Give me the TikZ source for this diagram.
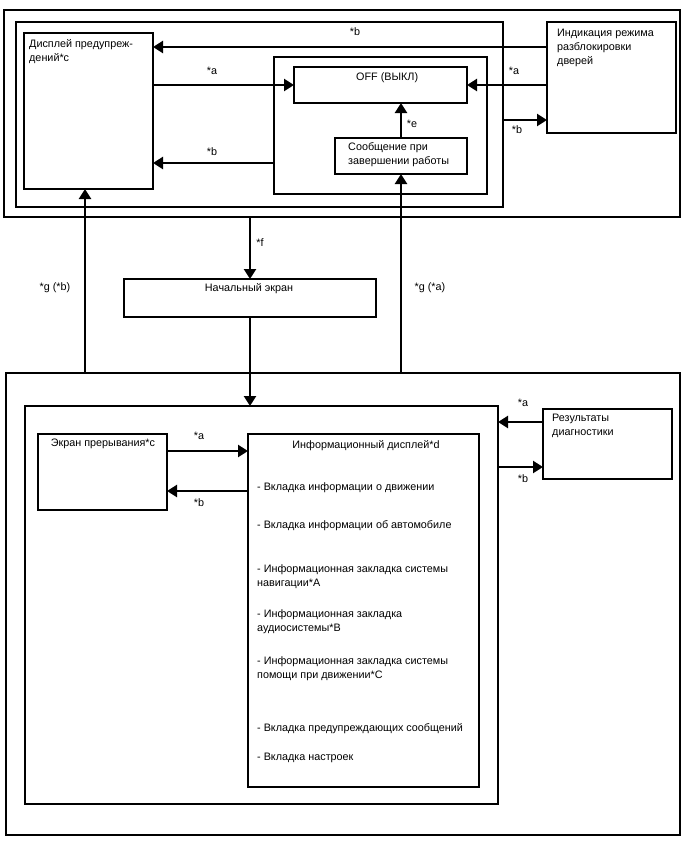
\documentclass[tikz,border=0pt]{standalone}
\usepackage{fontspec}
\setmainfont{Liberation Sans}
\usetikzlibrary{arrows.meta, positioning}

\begin{document}
\begin{tikzpicture}[
  x=1pt, y=-1pt,
  font=\fontsize{10.8}{14}\selectfont,
  box/.style={rectangle, draw=black, line width=1.3pt, anchor=north west,
              inner sep=0pt, outer sep=0pt},
  txt/.style={anchor=north west, inner sep=0pt, align=left},
  tag/.style={inner sep=1pt},
  arrow/.style={-{Triangle[length=10pt, width=12pt]}, line width=2.3pt},
]
  \useasboundingbox (0,0) rectangle (688,852);

  % upper group
  \node[box, minimum width=676, minimum height=207] (topout) at (4,10) {};
  \node[box, minimum width=487, minimum height=185] (topin)  at (16,22) {};
  \node[box, minimum width=129, minimum height=156] (warn)   at (24,33) {};
  \node[box, minimum width=213, minimum height=137] (offgrp) at (274,57) {};
  \node[box, minimum width=173, minimum height=36]  (off)    at (294,67) {};
  \node[box, minimum width=132, minimum height=36]  (msg)    at (335,138) {};
  \node[box, minimum width=129, minimum height=111] (door)   at (547,22) {};

  \node[txt] (warnt) at (29,39)  {Дисплей предупреж-\\дений*c};
  \node[txt] (offt)  at (356,72) {OFF (ВЫКЛ)};
  \node[txt] (msgt)  at (348,142) {Сообщение при\\завершении работы};
  \node[txt] (doort) at (557,29) {Индикация режима\\разблокировки\\дверей};

  % start screen
  \node[box, minimum width=252, minimum height=38] (start) at (124,279) {};
  \node[txt, anchor=north] (startt) at (249,283) {Начальный экран};

  % lower group
  \node[box, minimum width=674, minimum height=462] (lowout) at (6,373) {};
  \node[box, minimum width=473, minimum height=398] (lowin)  at (25,406) {};
  \node[box, minimum width=129, minimum height=76]  (intr)   at (38,434) {};
  \node[box, minimum width=231, minimum height=353] (info)   at (248,434) {};
  \node[box, minimum width=129, minimum height=70]  (diag)   at (543,409) {};

  \node[txt, anchor=north] (intrt) at (103,439) {Экран прерывания*c};
  \node[txt, anchor=north] (infot) at (366,440) {Информационный дисплей*d};
  \node[txt] (diagt) at (552,414) {Результаты\\диагностики};

  \node[txt] (item1) at (257,482) {- Вкладка информации о движении};
  \node[txt] (item2) at (257,520) {- Вкладка информации об автомобиле};
  \node[txt] (item3) at (257,564) {- Информационная закладка системы\\навигации*A};
  \node[txt] (item4) at (257,609) {- Информационная закладка\\аудиосистемы*B};
  \node[txt] (item5) at (257,656) {- Информационная закладка системы\\помощи при движении*C};
  \node[txt] (item6) at (257,723) {- Вкладка предупреждающих сообщений};
  \node[txt] (item7) at (257,753) {- Вкладка настроек};

  % levels of the side arrows
  \coordinate (lvwb) at (0,47);
  \coordinate (lvgb) at (0,163);
  \coordinate (lvdb) at (0,120);
  \coordinate (lvra) at (0,422);
  \coordinate (lvrb) at (0,467);
  \coordinate (lvia) at (0,451);
  \coordinate (lvib) at (0,491);
  \coordinate (colg) at (85,0);

  \draw[arrow] (door.west |- lvwb)  -- (warn.east |- lvwb);
  \draw[arrow] (warn.east |- off.west) -- (off.west);
  \draw[arrow] (offgrp.west |- lvgb) -- (warn.east |- lvgb);
  \draw[arrow] (door.west |- off.east) -- (off.east);
  \draw[arrow] (topin.east |- lvdb) -- (door.west |- lvdb);
  \draw[arrow] (msg.north) -- (off.south -| msg.north);

  \draw[arrow] (topout.south -| start.north) -- (start.north);
  \draw[arrow] (start.south) -- (lowin.north -| start.south);
  \draw[arrow] (lowout.north -| colg) -- (warn.south -| colg);
  \draw[arrow] (lowout.north -| msg.south) -- (msg.south);

  \draw[arrow] (diag.west |- lvra) -- (lowin.east |- lvra);
  \draw[arrow] (lowin.east |- lvrb) -- (diag.west |- lvrb);
  \draw[arrow] (intr.east |- lvia) -- (info.west |- lvia);
  \draw[arrow] (info.west |- lvib) -- (intr.east |- lvib);

  % arrow tags
  \node[tag] (tagwb) at (355,32)  {*b};
  \node[tag] (tagwa) at (212,71)  {*a};
  \node[tag] (taggb) at (212,152) {*b};
  \node[tag] (tagda) at (514,71)  {*a};
  \node[tag] (tagdb) at (517,130) {*b};
  \node[tag] (tage)  at (412,124) {*e};
  \node[tag] (tagf)  at (260,243) {*f};
  \node[tag] (taggl) at (55,288)  {*g (*b)};
  \node[tag] (taggr) at (430,288) {*g (*a)};
  \node[tag] (tagra) at (523,403) {*a};
  \node[tag] (tagrb) at (523,479) {*b};
  \node[tag] (tagia) at (199,436) {*a};
  \node[tag] (tagib) at (199,503) {*b};
\end{tikzpicture}
\end{document}
